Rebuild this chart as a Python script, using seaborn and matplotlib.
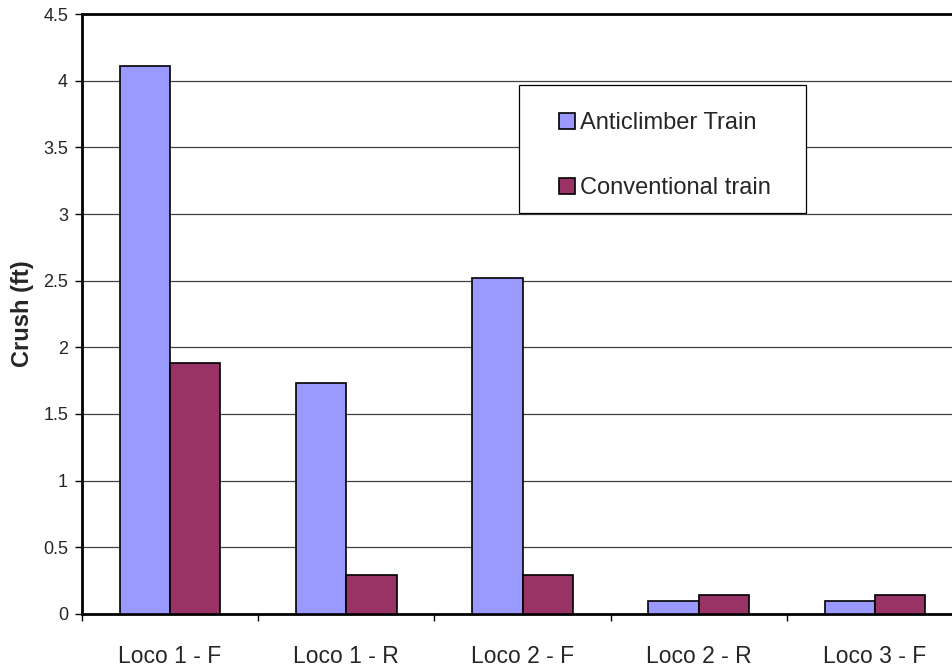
import numpy as np
import pandas as pd
import matplotlib.pyplot as plt
import seaborn as sns
from matplotlib.patches import Rectangle
from matplotlib.ticker import FixedLocator

categories = ["Loco 1 - F", "Loco 1 - R", "Loco 2 - F", "Loco 2 - R", "Loco 3 - F"]
anticlimber = [4.11, 1.73, 2.52, 0.10, 0.10]
conventional = [1.88, 0.29, 0.29, 0.14, 0.14]
series_names = ["Anticlimber Train", "Conventional train"]
colors = ["#9999FF", "#993366"]

df = pd.DataFrame({
    "category": categories * 2,
    "crush": anticlimber + conventional,
    "series": [series_names[0]] * len(categories) + [series_names[1]] * len(categories),
})

sns.set_style("white")
plt.rcParams["font.family"] = ["Liberation Sans", "DejaVu Sans"]

W, H = 952, 667
fig = plt.figure(figsize=(W / 100, H / 100), dpi=100)
ax = fig.add_axes([82 / W, 53 / H, 881 / W, 600 / H])

sns.barplot(data=df, x="category", y="crush", hue="series", order=categories,
            hue_order=series_names, palette=colors, saturation=1, width=0.57,
            edgecolor="black", linewidth=1.2, ax=ax, zorder=3, legend=True)

ax.set_xlim(-0.5, len(categories) - 0.5)
ax.set_ylim(0, 4.5)
ax.set_yticks(np.arange(0, 4.51, 0.5))
ax.set_yticklabels(["0", "0.5", "1", "1.5", "2", "2.5", "3", "3.5", "4", "4.5"])
ax.yaxis.grid(True, color="#404040", linewidth=0.9, zorder=0)
ax.xaxis.grid(False)

ax.tick_params(axis="y", direction="out", length=5, width=1, labelsize=13,
               left=True, color="black", pad=5)
ax.tick_params(axis="x", which="major", length=0, labelsize=16.5, pad=22)
ax.xaxis.set_minor_locator(FixedLocator(np.arange(-0.5, len(categories), 1.0)))
ax.tick_params(axis="x", which="minor", direction="out", length=5, width=1,
               bottom=True, color="black")

ax.set_xlabel("")
ax.set_ylabel("Crush (ft)", fontsize=17, fontweight="bold")
ax.yaxis.set_label_coords((22 - 82) / 881, 0.5)
ax.yaxis.label.set_va("center")

for side in ["left", "bottom", "top"]:
    ax.spines[side].set_visible(True)
    ax.spines[side].set_color("black")
    ax.spines[side].set_linewidth(2.0)
ax.spines["right"].set_visible(False)

# legend box drawn as in the original (wider than its content)
box = Rectangle((519 / W, 1 - 213 / H), 287 / W, 128 / H,
                transform=fig.transFigure, facecolor="white",
                edgecolor="black", linewidth=0.9, zorder=5, clip_on=False)
ax.add_patch(box)

leg = ax.legend(loc="upper left", bbox_to_anchor=(559 / W, 1 - 112 / H),
                bbox_transform=fig.transFigure, frameon=False,
                fontsize=17, handlelength=0.68, handleheight=0.68,
                handletextpad=0.2, labelspacing=1.82, borderpad=0,
                borderaxespad=0)
leg.set_zorder(6)
for h in leg.legend_handles:
    h.set_edgecolor("black")
    h.set_linewidth(1.2)

fig.savefig("out.png", dpi=100)
